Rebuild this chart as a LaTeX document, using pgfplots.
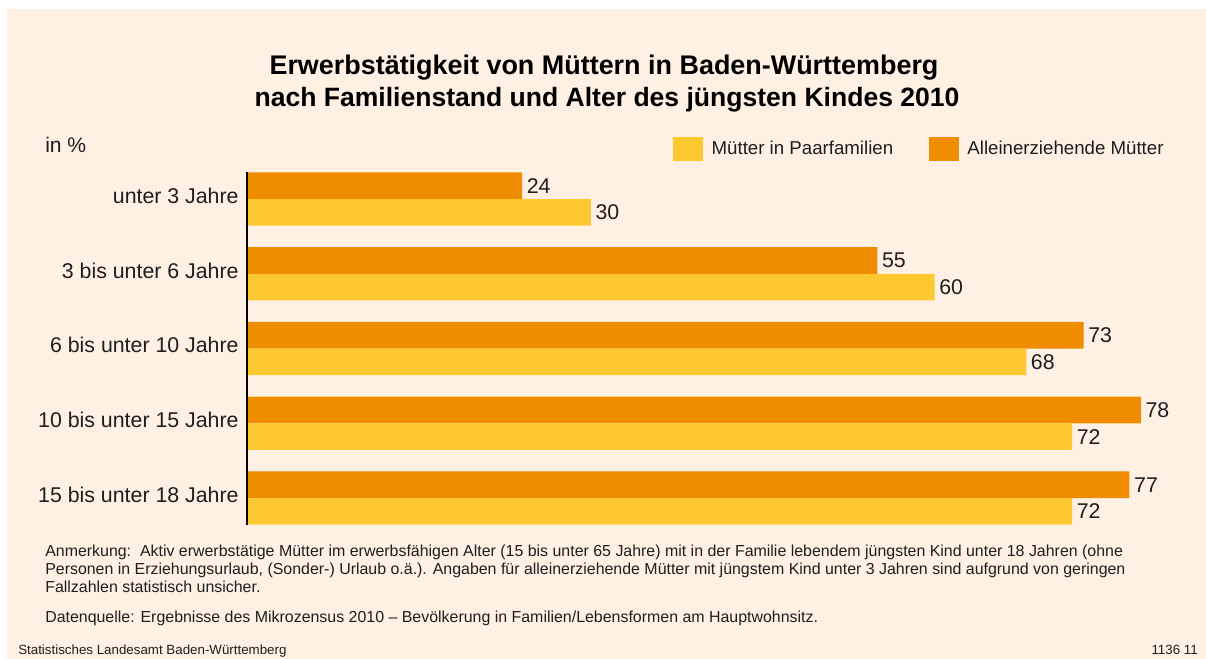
\documentclass[border=0pt]{standalone}
\usepackage{pgfplots}
\pgfplotsset{compat=1.18}
\usepackage{fontspec}
\setmainfont{Liberation Sans}
\definecolor{bg}{HTML}{FEF1E3}
\definecolor{orangebar}{HTML}{F08C00}
\definecolor{yellowbar}{HTML}{FDC830}
\definecolor{txt}{HTML}{1E1E1E}
\begin{document}
\begin{tikzpicture}[x=0.75pt,y=-0.75pt]
\fill[white] (0,0) rectangle (1206,659);
\fill[bg] (7,9) rectangle (1206,659);
\node[anchor=base, inner sep=0pt, font=\bfseries\fontsize{20.2}{24}\selectfont] at (604,75) {Erwerbstätigkeit von Müttern in Baden-Württemberg};
\node[anchor=base, inner sep=0pt, font=\bfseries\fontsize{19.9}{24}\selectfont] at (607,107) {nach Familienstand und Alter des jüngsten Kindes 2010};
\node[anchor=base west, inner sep=0pt, font=\fontsize{15.8}{18}\selectfont, text=txt] at (45,153) {in \%};
\begin{axis}[
  at={(185.25pt,-393.75pt)}, anchor=south west,
  width=687.6pt, height=264.7pt, scale only axis,
  xmin=0, xmax=80, ymin=-0.361, ymax=4.361,
  xbar, bar width=20pt,
  axis on top,
  axis x line=none, axis y line*=left,
  y axis line style={line width=1.1pt, black},
  xtick=\empty,
  ytick={0,1,2,3,4},
  yticklabels={15 bis unter 18 Jahre, 10 bis unter 15 Jahre, 6 bis unter 10 Jahre, 3 bis unter 6 Jahre, unter 3 Jahre},
  ytick style={draw=none},
  y tick label style={font=\fontsize{16}{19}\selectfont, text=txt, yshift=2.5pt, xshift=1.5pt},
  clip=false,
  /pgf/number format/assume math mode=true,
  nodes near coords,
  nodes near coords style={font=\fontsize{16}{19}\selectfont, text=txt, anchor=west},
  legend columns=2,
  legend style={draw=none, fill=none, at={(1,1.099)}, anchor=north east, inner sep=0pt,
    font=\fontsize{14}{17}\selectfont, text=txt,
    nodes={inner sep=0pt},
    /tikz/every odd column/.append style={column sep=7pt},
    /tikz/every even column/.append style={column sep=26.5pt}},
  legend image code/.code={\fill[#1] (0pt,-8.6pt) rectangle (21.75pt,8.6pt);},
]
\addlegendimage{yellowbar}
\addlegendentry{Mütter in Paarfamilien}
\addlegendimage{orangebar}
\addlegendentry{Alleinerziehende Mütter}
\addplot[fill=orangebar, draw=none, bar shift=10pt, forget plot] coordinates {(24,4) (55,3) (73,2) (78,1) (77,0)};
\addplot[fill=yellowbar, draw=none, bar shift=-10pt, forget plot] coordinates {(30,4) (60,3) (68,2) (72,1) (72,0)};
\end{axis}
\begin{scope}[every node/.style={anchor=base west, inner sep=0pt, font=\fontsize{11.95}{14}\selectfont, text=txt}]
\node at (45,556) {Anmerkung:\ \ Aktiv erwerbstätige Mütter im erwerbsfähigen Alter (15 bis unter 65 Jahre) mit in der Familie lebendem jüngsten Kind unter 18 Jahren (ohne};
\node at (45,574) {Personen in Erziehungsurlaub, (Sonder-) Urlaub o.ä.). Angaben für alleinerziehende Mütter mit jüngstem Kind unter 3 Jahren sind aufgrund von geringen};
\node at (45,592) {Fallzahlen statistisch unsicher.};
\node at (45,622) {Datenquelle: Ergebnisse des Mikrozensus 2010 – Bevölkerung in Familien/Lebensformen am Hauptwohnsitz.};
\node[font=\fontsize{10}{12}\selectfont] at (18,654) {Statistisches Landesamt Baden-Württemberg};
\node[anchor=base east, font=\fontsize{10}{12}\selectfont] at (1198,654) {1136 11};
\end{scope}
\end{tikzpicture}
\end{document}
